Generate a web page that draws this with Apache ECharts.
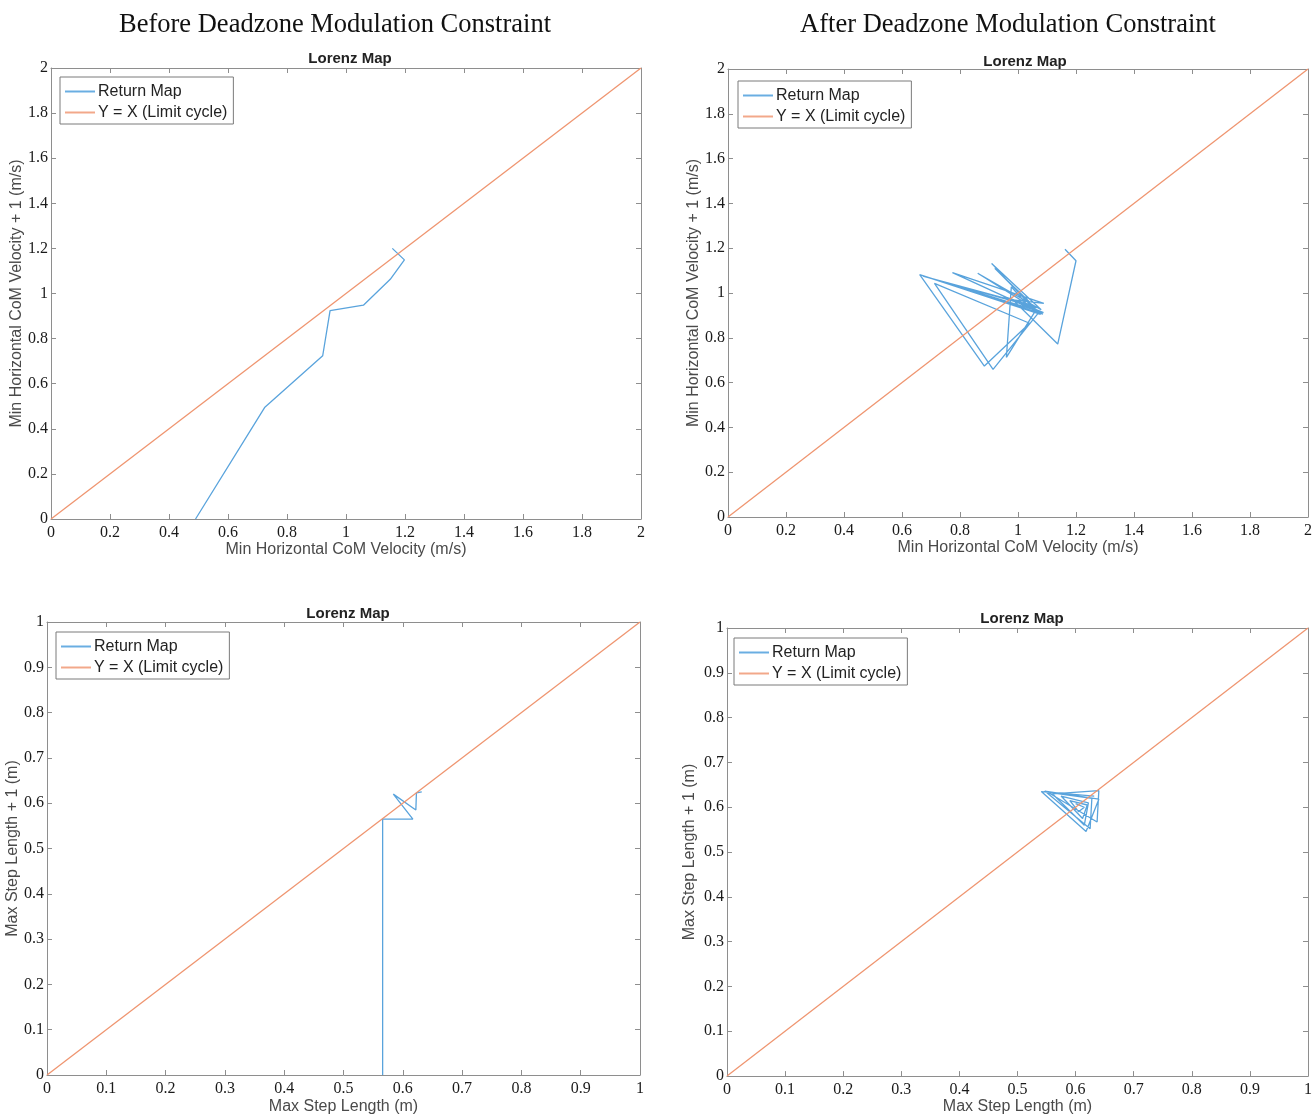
<!DOCTYPE html>
<html>
<head>
<meta charset="utf-8">
<script src="https://cdn.jsdelivr.net/npm/echarts@6/dist/echarts.min.js"></script>
<style>
html, body { margin: 0; padding: 0; background: #fff; }
#chart { width: 1315px; height: 1116px; }
</style>
</head>
<body>
<div id="chart"></div>
<script>
// return maps, points are [v(k+1), v(k) + 1]
var velBefore = [[0.490, 0.000], [0.724, 0.494], [0.921, 0.724], [0.946, 0.924], [1.059, 0.948],
	[1.150, 1.063], [1.198, 1.149], [1.157, 1.200]];
var velAfter = [[1.162, 1.195], [1.200, 1.144], [1.137, 0.772], [0.983, 0.969], [1.089, 0.954],
	[0.774, 1.091], [1.086, 0.906], [0.661, 1.082], [0.884, 0.674], [1.040, 0.865],
	[0.712, 1.043], [0.914, 0.659], [1.074, 0.917], [0.861, 1.088], [1.080, 0.925],
	[0.909, 1.132], [1.060, 0.920], [0.960, 0.713], [0.977, 1.028], [1.030, 0.950],
	[0.672, 1.075], [1.065, 0.935], [0.950, 0.985], [1.088, 0.912], [0.690, 1.070],
	[1.078, 0.905], [0.920, 1.110], [1.040, 0.960]];
var stepBefore = [[0.566, 0.000], [0.566, 0.565], [0.617, 0.565], [0.584, 0.620], [0.622, 0.585],
	[0.623, 0.623], [0.632, 0.625]];
var stepAfter = [[0.632, 0.625], [0.541, 0.635], [0.618, 0.546], [0.640, 0.618], [0.547, 0.636],
	[0.625, 0.552], [0.628, 0.620], [0.553, 0.633], [0.637, 0.567], [0.640, 0.637],
	[0.560, 0.630], [0.615, 0.560], [0.622, 0.610], [0.575, 0.625], [0.612, 0.575],
	[0.620, 0.605], [0.590, 0.615], [0.605, 0.590], [0.615, 0.600], [0.600, 0.608]];
var velLimit = [[0, 0], [2, 2]];
var stepLimit = [[0, 0], [1, 1]];

var velRange = { min: 0, max: 2, interval: 0.2 };
var stepRange = { min: 0, max: 1, interval: 0.1 };

var velXName = 'Min Horizontal CoM Velocity (m/s)';
var velYName = 'Min Horizontal CoM Velocity + 1 (m/s)';
var stepXName = 'Max Step Length (m)';
var stepYName = 'Max Step Length + 1 (m)';

var headers = ['Before Deadzone Modulation Constraint', 'After Deadzone Modulation Constraint'];
var panelTitle = 'Lorenz Map';
var names = ['Return Map', 'Y = X (Limit cycle)'];

var serif = '"Liberation Serif", "Times New Roman", serif';
var sans = '"Liberation Sans", Arial, sans-serif';
var boxColor = '#8e8e8e';
var blue = '#3c93d6';
var orange = '#ef9570';

var panels = [
	{ grid: { left: 51, top: 68, width: 590, height: 451 }, range: velRange, xName: velXName, yName: velYName, xGap: 22, yGap: 23,
		data: velBefore, limit: velLimit, title: [345, 46], legend: { left: 60, top: 77 } },
	{ grid: { left: 728, top: 69, width: 585, height: 448 }, range: velRange, xName: velXName, yName: velYName, xGap: 22, yGap: 26,
		data: velAfter, limit: velLimit, title: [1020, 49], legend: { left: 738, top: 81 } },
	{ grid: { left: 47, top: 622, width: 593, height: 455 }, range: stepRange, xName: stepXName, yName: stepYName, xGap: 24, yGap: 23,
		data: stepBefore, limit: stepLimit, title: [343, 601], legend: { left: 56, top: 632 } },
	{ grid: { left: 727, top: 628, width: 583, height: 451 }, range: stepRange, xName: stepXName, yName: stepYName, xGap: 21, yGap: 29,
		data: stepAfter, limit: stepLimit, title: [1017, 606], legend: { left: 734, top: 638 } }
];

function makeAxis(p, i, pos, main) {
	var isX = pos === 'bottom' || pos === 'top';
	var ax = {
		type: 'value',
		gridIndex: i,
		position: pos,
		min: p.range.min,
		max: p.range.max,
		interval: p.range.interval,
		splitLine: { show: false },
		axisLine: { show: true, onZero: false, lineStyle: { color: boxColor, width: 1 } },
		axisTick: { show: true, inside: true, length: 5, lineStyle: { color: boxColor } },
		axisLabel: { show: main, color: '#1a1a1a', fontFamily: serif, fontSize: 16, margin: isX ? 6 : 3 }
	};
	if (main) {
		ax.name = isX ? p.xName : p.yName;
		ax.nameLocation = 'middle';
		ax.nameGap = isX ? p.xGap : p.yGap;
		ax.nameTextStyle = { color: '#4a4a4a', fontFamily: sans, fontSize: 16 };
	}
	return ax;
}

var grids = [], xAxes = [], yAxes = [], series = [], legends = [];
var titles = [
	{ text: headers[0], left: 330, top: 7, textAlign: 'center', textStyle: { fontFamily: serif, fontSize: 26.5, fontWeight: 'normal', color: '#111' } },
	{ text: headers[1], left: 1003, top: 7, textAlign: 'center', textStyle: { fontFamily: serif, fontSize: 26.5, fontWeight: 'normal', color: '#111' } }
];

panels.forEach(function (p, i) {
	grids.push(p.grid);
	xAxes.push(makeAxis(p, i, 'bottom', true), makeAxis(p, i, 'top', false));
	yAxes.push(makeAxis(p, i, 'left', true), makeAxis(p, i, 'right', false));
	series.push({
		name: names[0], type: 'line', xAxisIndex: 2 * i, yAxisIndex: 2 * i,
		data: p.data, symbol: 'none', animation: false,
		lineStyle: { color: blue, width: 1.3, opacity: 0.85 }, itemStyle: { color: '#6aaee2' }
	});
	series.push({
		name: names[1], type: 'line', xAxisIndex: 2 * i, yAxisIndex: 2 * i,
		data: p.limit, symbol: 'none', animation: false,
		lineStyle: { color: orange, width: 1.3 }, itemStyle: { color: '#f2a88a' }
	});
	legends.push({
		data: names, orient: 'vertical', left: p.legend.left, top: p.legend.top,
		icon: 'rect', itemWidth: 30, itemHeight: 2, itemGap: 4, padding: [6, 6, 3, 5],
		borderColor: '#7a7a7a', borderWidth: 1, backgroundColor: '#fff',
		selectedMode: false,
		textStyle: { fontFamily: sans, fontSize: 16, color: '#222', padding: [0, 0, 0, -2], lineHeight: 17 }
	});
	titles.push({
		text: panelTitle, left: p.title[0], top: p.title[1], textAlign: 'center',
		textStyle: { fontFamily: sans, fontSize: 15, fontWeight: 'bold', color: '#222' }
	});
});

var myChart = echarts.init(document.getElementById('chart'));
myChart.setOption({
	animation: false,
	title: titles,
	grid: grids,
	xAxis: xAxes,
	yAxis: yAxes,
	legend: legends,
	series: series
});
</script>
</body>
</html>
